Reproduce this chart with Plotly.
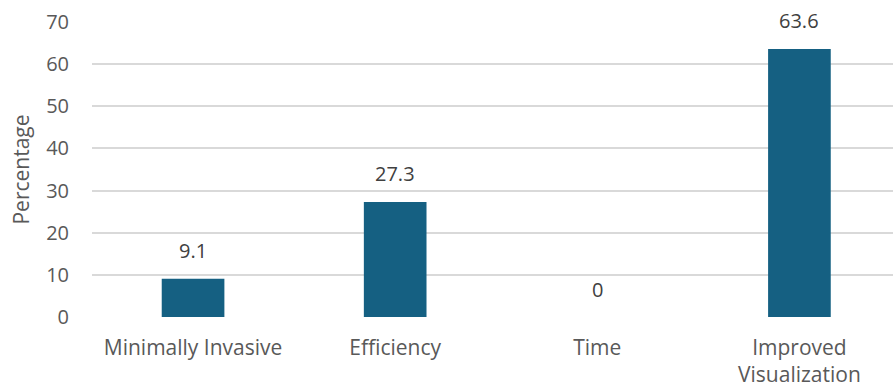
import plotly.graph_objects as go

# Survey responses by perceived benefit
categories = ["Minimally Invasive", "Efficiency", "Time", "Improved<br>Visualization"]
percentages = [9.1, 27.3, 0, 63.6]
label_text = ["9.1", "27.3", "0", "63.6"]
y_ticks = [0, 10, 20, 30, 40, 50, 60, 70]

BAR_COLOR = "#156082"
TEXT_COLOR = "#595959"
FONT = "Open Sans"

fig = go.Figure(
    go.Bar(
        x=list(range(len(categories))),
        y=percentages,
        width=0.31,
        marker=dict(color=BAR_COLOR, line=dict(width=0)),
        hoverinfo="skip",
    )
)

# Value labels placed above each bar
for i, (v, t) in enumerate(zip(percentages, label_text)):
    fig.add_annotation(
        x=i, y=v, text=t, showarrow=False,
        yshift=28, font=dict(family=FONT, size=20, color="#404040"),
    )

fig.update_layout(
    width=893, height=388,
    margin=dict(l=92, r=0, t=22, b=71),
    paper_bgcolor="white", plot_bgcolor="white",
    showlegend=False,
    font=dict(family=FONT, size=19, color=TEXT_COLOR),
)
fig.update_xaxes(
    range=[-0.5, 3.463],
    tickmode="array",
    tickvals=list(range(len(categories))),
    ticktext=categories,
    showgrid=False, zeroline=False, showline=False,
    ticks="", ticklabelstandoff=16,
    tickfont=dict(family=FONT, size=21, color=TEXT_COLOR),
)
fig.update_yaxes(
    range=[0, 70],
    tickvals=y_ticks,
    showgrid=True, gridcolor="#d9d9d9", gridwidth=1.5,
    zeroline=False, showline=False, ticks="",
    ticklabelstandoff=22,
    tickfont=dict(family=FONT, size=20, color=TEXT_COLOR),
    title=dict(text="Percentage", standoff=10,
               font=dict(family=FONT, size=21, color=TEXT_COLOR)),
)

fig.write_html("out.html")
